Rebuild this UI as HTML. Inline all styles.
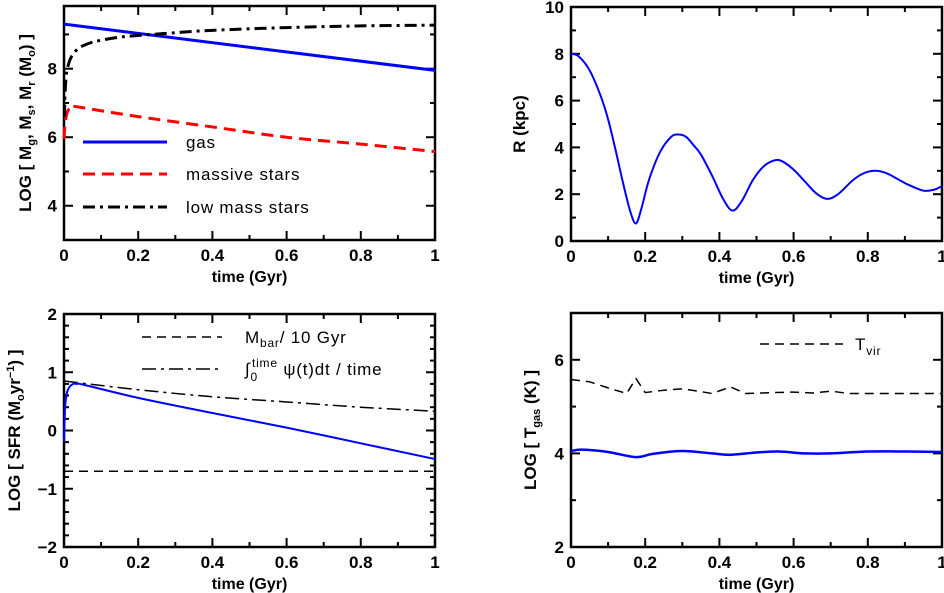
<!DOCTYPE html>
<html><head><meta charset="utf-8"><style>
body{margin:0;background:#fff;width:944px;height:593px;overflow:hidden}
svg{display:block;font-family:"Liberation Sans",sans-serif}
.tk{font-weight:bold;font-size:17px}
.al{font-weight:bold;font-size:16px}
.yl{font-weight:bold;font-size:17px}
.lg{font-size:17px;letter-spacing:0.8px}
</style></head><body>
<svg id="s" width="944" height="593"></svg>
<script>
// ===== Data =====
const gasT=[0,1];const gasV=[9.3,7.95];
const msT=[0,0.003,0.008,0.015,0.025,0.04,0.2,0.4,0.6,0.8,1];
const msV=[5.95,6.4,6.7,6.85,6.9,6.88,6.6,6.3,6.0,5.8,5.58];
const lmT=[0.001,0.003,0.006,0.01,0.02,0.04,0.07,0.1,0.15,0.2,0.3,0.4,0.6,0.8,1];
const lmV=[6.6,7.3,7.8,8.05,8.35,8.6,8.75,8.83,8.92,8.97,9.05,9.12,9.2,9.25,9.27];
const rT=[0,0.02,0.05,0.08,0.1,0.12,0.14,0.16,0.175,0.19,0.21,0.24,0.27,0.29,0.31,0.33,0.35,0.38,0.41,0.435,0.46,0.49,0.52,0.55,0.57,0.6,0.63,0.66,0.69,0.72,0.76,0.79,0.82,0.85,0.88,0.91,0.95,0.98,1];
const rV=[8,7.9,7.3,6.2,5.2,3.9,2.5,1.25,0.75,1.4,2.6,3.8,4.45,4.55,4.45,4.1,3.7,2.8,1.8,1.3,1.7,2.6,3.2,3.45,3.4,3.05,2.55,2.05,1.8,2.0,2.6,2.9,3.0,2.9,2.65,2.4,2.15,2.2,2.35];
const sfrT=[0,0.003,0.008,0.015,0.025,0.035,0.05,0.2,0.4,0.6,0.8,1];
const sfrV=[-0.2,0.4,0.65,0.75,0.8,0.8,0.79,0.56,0.3,0.05,-0.22,-0.49];
const avgT=[0,0.2,0.4,0.6,0.8,1];const avgV=[0.85,0.7,0.58,0.49,0.4,0.33];
const mbarT=[0,1];const mbarV=[-0.7,-0.7];
const tvT=[0,0.05,0.1,0.15,0.175,0.2,0.25,0.3,0.35,0.38,0.43,0.47,0.55,0.6,0.65,0.7,0.75,0.85,1];
const tvV=[5.58,5.53,5.4,5.28,5.6,5.3,5.35,5.38,5.32,5.28,5.42,5.28,5.3,5.31,5.29,5.33,5.28,5.28,5.28];
const tgT=[0,0.03,0.1,0.175,0.22,0.3,0.38,0.43,0.5,0.56,0.63,0.7,0.8,0.9,1];
const tgV=[4.05,4.08,4.03,3.92,3.99,4.05,4.0,3.97,4.02,4.04,4.0,4.0,4.04,4.04,4.03];
const xTicks=["0","0.2","0.4","0.6","0.8","1"];

const S=document.getElementById('s');const NS='http://www.w3.org/2000/svg';
function el(t,a,p){const e=document.createElementNS(NS,t);for(const k in a)e.setAttribute(k,a[k]);(p||S).appendChild(e);return e;}
function panel(name,x0,x1,yT,yB,ymin,ymax,yMaj,yMin,yLabels,ylabel){
  const g=el('g',{});
  
  
  const sx=v=>x0+(x1-x0)*v, sy=v=>yB-(yB-yT)*(v-ymin)/(ymax-ymin);
  el('rect',{x:x0,y:yT,width:x1-x0,height:yB-yT,fill:'none',stroke:'#000','stroke-width':2.5},g);
  for(let i=0;i<=10;i++){const x=sx(i/10),L=i%2?5:9;
    el('line',{x1:x,x2:x,y1:yB,y2:yB-L,stroke:'#000','stroke-width':2},g);
    el('line',{x1:x,x2:x,y1:yT,y2:yT+L,stroke:'#000','stroke-width':2},g);}
  for(let v=ymin;v<=ymax+1e-9;v+=yMin){const y=sy(v);const maj=Math.abs(v/yMaj-Math.round(v/yMaj))<1e-6;const L=maj?9:5;
    el('line',{x1:x0,x2:x0+L,y1:y,y2:y,stroke:'#000','stroke-width':2},g);
    el('line',{x1:x1,x2:x1-L,y1:y,y2:y,stroke:'#000','stroke-width':2},g);}
  xTicks.forEach((t,i)=>{const tx=el('text',{x:sx(i/5),y:yB+21,'text-anchor':'middle',class:'tk'},g);tx.textContent=t;
    
    });
  yLabels.forEach(v=>{const tx=el('text',{x:x0-7,y:sy(v)+6,'text-anchor':'end',class:'tk'},g);tx.textContent=(v<0?'\u2212'+(-v):v);
    
    });
  const xt=el('text',{x:(x0+x1)/2,y:yB+42,'text-anchor':'middle',class:'al'},g);xt.textContent='time (Gyr)';
  
  
  const yt=el('text',{x:0,y:0,'text-anchor':'middle',class:'yl',transform:`translate(${ylabel.x},${(yT+yB)/2}) rotate(-90)`},g);yt.innerHTML=ylabel.html;
  
  
  return {g,sx,sy};
}
function curve(P,T,V,style,name,smooth){
  const pts=T.map((t,i)=>[P.sx(t),P.sy(V[i])]);let d='M'+pts[0];
  for(let i=1;i<pts.length;i++){
    if(smooth){const p0=pts[Math.max(i-2,0)],p1=pts[i-1],p2=pts[i],p3=pts[Math.min(i+1,pts.length-1)];
      d+=`C${p1[0]+(p2[0]-p0[0])/6},${p1[1]+(p2[1]-p0[1])/6} ${p2[0]-(p3[0]-p1[0])/6},${p2[1]-(p3[1]-p1[1])/6} ${p2}`;}
    else d+='L'+pts[i];}
  const p=el('path',Object.assign({d,fill:'none','stroke-linejoin':'round'},style),P.g);
  
  
}
function legLine(P,x1,x2,y,style,txt,tx,name){
  const l=el('line',Object.assign({x1,x2,y1:y,y2:y},style),P.g);
  
  
  const t=el('text',{x:tx,y:y+6,class:'lg'},P.g);t.innerHTML=txt;
  
  
}
// Panel 1
const A=panel('mass-panel',64,435,6,240,3,9.83,2,1,[4,6,8],{x:31,html:'LOG [ M<tspan font-size="11" dy="4">g</tspan><tspan dy="-4">, M</tspan><tspan font-size="11" dy="4">s</tspan><tspan dy="-4">, M</tspan><tspan font-size="11" dy="4">r</tspan><tspan dy="-4"> (M</tspan><tspan font-size="11" dy="4">o</tspan><tspan dy="-4">) ]</tspan>'});
curve(A,gasT,gasV,{stroke:'#0000ff','stroke-width':3},'gas-line');
curve(A,msT,msV,{stroke:'#ff0000','stroke-width':3,'stroke-dasharray':'12,7'},'massive-stars-line',true);
curve(A,lmT,lmV,{stroke:'#000','stroke-width':3,'stroke-dasharray':'12,5,3,5'},'low-mass-stars-line',true);
legLine(A,83,167,142,{stroke:'#0000ff','stroke-width':3},'gas',186,'legend-gas');
legLine(A,83,167,174,{stroke:'#ff0000','stroke-width':3,'stroke-dasharray':'12,7'},'massive  stars',186,'legend-massive-stars');
legLine(A,83,167,207,{stroke:'#000','stroke-width':3,'stroke-dasharray':'12,5,3,5'},'low  mass  stars',186,'legend-low-mass-stars');
// Panel 2
const B=panel('radius-panel',571,942,7,241,0,10,2,1,[0,2,4,6,8,10],{x:525,html:'R (kpc)'});
curve(B,rT,rV,{stroke:'#0000ff','stroke-width':2},'radius-line',true);
// Panel 3
const C=panel('sfr-panel',64,435,314,547,-2,2,1,0.2,[-2,-1,0,1,2],{x:20,html:'LOG [ SFR (M<tspan font-size="11" dy="4">o</tspan><tspan dy="-4">yr</tspan><tspan font-size="11" dy="-6">−1</tspan><tspan dy="6">) ]</tspan>'});
curve(C,mbarT,mbarV,{stroke:'#000','stroke-width':1.5,'stroke-dasharray':'9,6'},'mbar-line');
curve(C,avgT,avgV,{stroke:'#000','stroke-width':1.5,'stroke-dasharray':'14,5,3,5'},'average-sfr-line',true);
curve(C,sfrT,sfrV,{stroke:'#0000ff','stroke-width':2},'sfr-line',true);
legLine(C,142,222,337,{stroke:'#000','stroke-width':1.5,'stroke-dasharray':'9,6'},'M<tspan font-size="12" dy="4">bar</tspan><tspan dy="-4">/  10  Gyr</tspan>',245,'legend-mbar');
legLine(C,142,222,369,{stroke:'#000','stroke-width':1.5,'stroke-dasharray':'14,5,3,5'},'∫<tspan font-size="12" dy="6">0</tspan><tspan font-size="12" dx="-6" dy="-14">time</tspan><tspan dy="8">  ψ(t)dt  /  time</tspan>',245,'legend-average-sfr');
// Panel 4
const D=panel('temperature-panel',571,942,313,547,2,7,2,1,[2,4,6],{x:536,html:'LOG [ T<tspan font-size="11" dy="4">gas</tspan><tspan dy="-4"> (K) ]</tspan>'});
curve(D,tvT,tvV,{stroke:'#000','stroke-width':1.5,'stroke-dasharray':'9,6'},'tvir-line');
curve(D,tgT,tgV,{stroke:'#0000ff','stroke-width':2.5},'tgas-line',true);
legLine(D,760,843,344,{stroke:'#000','stroke-width':1.5,'stroke-dasharray':'9,6'},'T<tspan font-size="12" dy="5">vir</tspan>',855,'legend-tvir');
</script>
</body></html>
